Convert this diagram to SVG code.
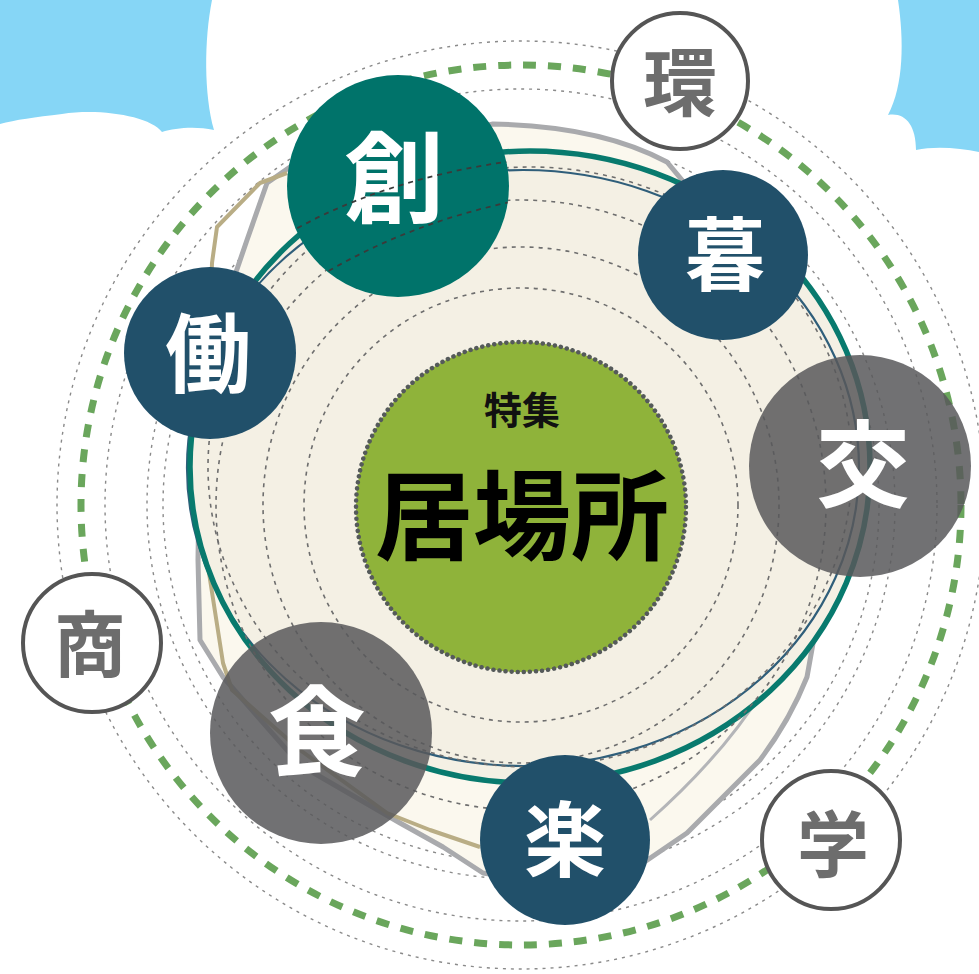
<svg xmlns="http://www.w3.org/2000/svg" width="979" height="974" viewBox="0 0 979 974">
<style>
.dot{fill:none;stroke:#6e6e6e;stroke-width:1.6;stroke-dasharray:4 5}
.dotl{fill:none;stroke:#8a8a8a;stroke-width:1.4;stroke-dasharray:3 5}
.dotd{fill:none;stroke:#3a3a3a;stroke-width:1.8;stroke-dasharray:5 5}
.kan{font-family:"Noto Sans CJK JP","Noto Sans CJK SC",sans-serif;font-weight:700;text-anchor:middle}
.w{fill:#ffffff}
.g{fill:#6d6d6d}
.ring{fill:#ffffff;stroke:#555555;stroke-width:4}
</style>
<rect width="979" height="974" fill="#ffffff"/>
<path d="M0,0 H212 C204,40 204,95 214,130 C195,126 175,128 162,132 C150,116 100,108 62,114 C35,117 15,120 0,124 Z" fill="#86d6f6"/>
<path d="M979,0 H898 C904,40 904,85 888,115 C905,112 916,125 916,150 C935,146 960,148 979,152 Z" fill="#86d6f6"/>

<g id="orbits">
<circle cx="521" cy="505" r="464" class="dotl"/>
<circle cx="521" cy="505" r="416" class="dotl"/>
<circle cx="521" cy="505" r="440" fill="none" stroke="#6aa65c" stroke-width="7" stroke-dasharray="13 12"/>
<circle cx="521" cy="505" r="374" class="dotl"/>
<circle cx="521" cy="505" r="358" class="dotl"/>
</g>

<g id="field">
<path d="M493,124 Q600,126 667,162 L790,310 L810,367 Q825,420 823,467 L822,593 L807,677 Q790,720 760,760 L687,833 L643,863 L560,885 L483,873 L443,847 L400,823 L300,765 L223,677 L200,640 L198,560 L200,420 L210,330 L235,275 L247,240 L267,183 L290,167 Z" fill="#fbf8ee" stroke="#a9aaad" stroke-width="5" stroke-linejoin="round"/>
<path d="M800,330 Q818,420 815,480 Q812,600 780,660 Q740,740 650,820" fill="none" stroke="#b4b5b8" stroke-width="3"/>
<path d="M287,173 L260,183 L217,227 L212,263 L207,420 L207,560 L223,663 L232,690 L300,750 L387,813 L430,830 L480,847" fill="none" stroke="#b9ad85" stroke-width="4" stroke-linejoin="round"/>
<ellipse cx="530" cy="467" rx="340" ry="316" fill="#f4f0e4"/>
<ellipse cx="523" cy="468" rx="336" ry="298" fill="none" stroke="#2f5e7a" stroke-width="2.2"/>
<ellipse cx="530" cy="467" rx="340" ry="316" fill="none" stroke="#087a6e" stroke-width="5.5"/>
<ellipse cx="530" cy="467" rx="322" ry="300" class="dot"/>
<circle cx="521" cy="505" r="305" class="dot"/>
<circle cx="521" cy="505" r="258" class="dot"/>
<circle cx="521" cy="505" r="217" class="dot"/>
</g>

<g id="center">
<circle cx="521" cy="507" r="165" fill="#8fb33a" stroke="#555a5a" stroke-width="4.5" stroke-dasharray="0.1 6" stroke-linecap="round"/>
<text x="522" y="424" class="kan" font-size="38" font-weight="400" fill="#111111">特集</text>
<text x="522" y="552" class="kan" font-size="98" font-weight="500" fill="#000000">居場所</text>
</g>

<g id="kan-kan">
<circle cx="680" cy="81" r="68" class="ring"/>
<text x="680" y="110" class="kan g" font-size="74">環</text>
</g>
<g id="kan-sou">
<circle cx="398" cy="186" r="111" fill="#00736a"/>
<text x="394" y="215" class="kan w" font-size="100">創</text>
</g>
<g id="kan-kurashi">
<circle cx="723" cy="255" r="85" fill="#21506a"/>
<text x="725" y="284" class="kan w" font-size="80">暮</text>
</g>
<g id="kan-hataraku">
<circle cx="210" cy="353" r="86" fill="#21506a"/>
<text x="208" y="386" class="kan w" font-size="86">働</text>
</g>
<g id="kan-kou">
<circle cx="860" cy="466" r="111" fill="#58585b" fill-opacity="0.85"/>
<text x="863" y="500" class="kan w" font-size="94">交</text>
</g>
<g id="kan-shou">
<circle cx="92" cy="643" r="69" class="ring"/>
<text x="90" y="671" class="kan g" font-size="72">商</text>
</g>
<g id="kan-shoku">
<circle cx="321" cy="733" r="111" fill="#58585b" fill-opacity="0.85"/>
<text x="317" y="768" class="kan w" font-size="98">食</text>
</g>
<g id="kan-raku">
<circle cx="565" cy="840" r="85" fill="#21506a"/>
<text x="565" y="870" class="kan w" font-size="82">楽</text>
</g>
<g id="kan-gaku">
<circle cx="831" cy="840" r="69" class="ring"/>
<text x="833" y="871" class="kan g" font-size="72">学</text>
</g>

<clipPath id="souclip"><circle cx="398" cy="186" r="111"/></clipPath>
<g id="overlay" clip-path="url(#souclip)">
<path d="M280,238 Q380,178 520,160" class="dotd"/>
<path d="M320,276 Q410,222 520,200" class="dotd"/>
</g>
</svg>
